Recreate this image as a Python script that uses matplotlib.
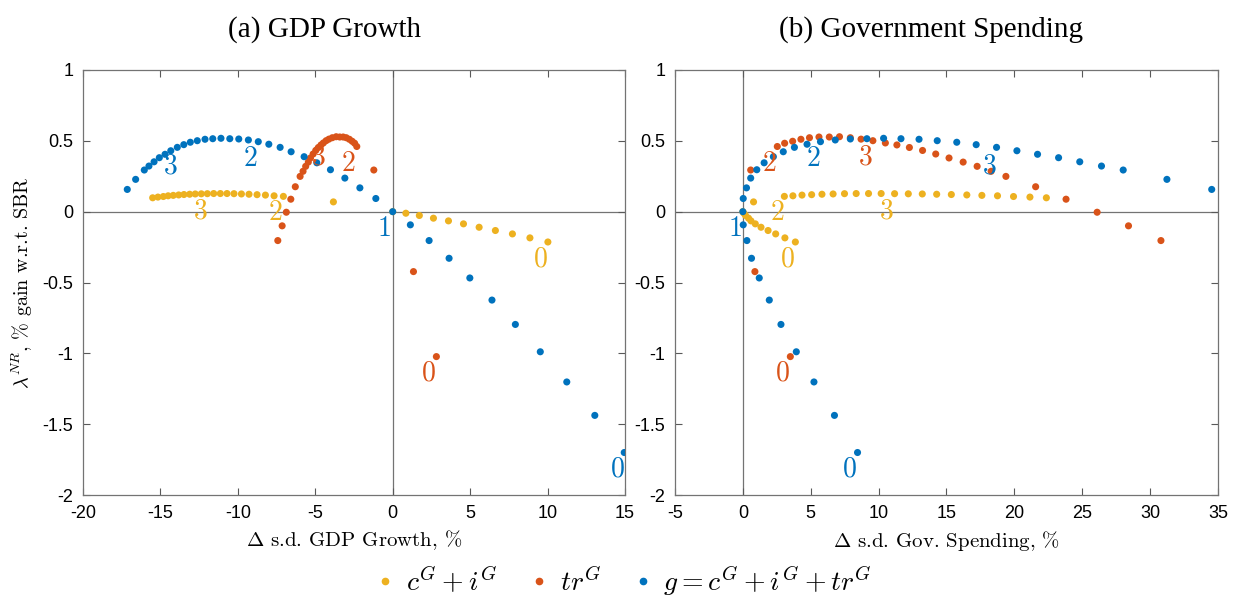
import matplotlib
matplotlib.use('Agg')
import matplotlib.pyplot as plt
from matplotlib.lines import Line2D

plt.rcParams['mathtext.fontset'] = 'cm'

# series colours (MATLAB defaults)
c_yel = '#EDB120'
c_org = '#D95319'
c_blu = '#0072BD'

# c^G + i^G
y_cig = [-0.214, -0.185, -0.157, -0.133, -0.110, -0.086, -0.065, -0.046, -0.027, -0.011, 0.0, 0.069,
         0.108, 0.112, 0.117, 0.120, 0.123, 0.125, 0.127, 0.128, 0.128, 0.128, 0.127,
         0.126, 0.125, 0.123, 0.121, 0.118, 0.115, 0.112, 0.107, 0.103, 0.098]
x_cig_gdp = [10.02, 8.86, 7.73, 6.63, 5.58, 4.57, 3.60, 2.63, 1.72, 0.85, 0.0, -3.83,
             -7.06, -7.66, -8.22, -8.76, -9.28, -9.77, -10.25, -10.70, -11.13, -11.56, -11.97,
             -12.36, -12.75, -13.11, -13.48, -13.82, -14.17, -14.50, -14.81, -15.16, -15.50]
x_cig_gov = [3.87, 3.10, 2.42, 1.86, 1.34, 0.92, 0.60, 0.42, 0.20, 0.08, 0.0, 0.79,
             3.06, 3.69, 4.36, 5.07, 5.83, 6.65, 7.49, 8.35, 9.26, 10.19, 11.18,
             12.19, 13.22, 14.28, 15.36, 16.50, 17.61, 18.76, 19.94, 21.15, 22.36]

# tr^G
y_tr = [-1.023, -0.423, 0.294, 0.460, 0.483, 0.497, 0.511, 0.522, 0.527, 0.527, 0.529, 0.522,
        0.512, 0.501, 0.485, 0.471, 0.453, 0.432, 0.407, 0.379, 0.350, 0.320, 0.285, 0.249,
        0.176, 0.088, -0.004, -0.100, -0.204]
x_tr_gdp = [2.82, 1.34, -1.22, -2.32, -2.46, -2.62, -2.80, -3.00, -3.20, -3.42, -3.65, -3.90,
            -4.12, -4.30, -4.48, -4.63, -4.80, -4.97, -5.14, -5.31, -5.45, -5.62, -5.79, -5.98,
            -6.29, -6.58, -6.87, -7.14, -7.42]
x_tr_gov = [3.50, 0.89, 0.58, 2.54, 3.08, 3.67, 4.28, 4.91, 5.61, 6.37, 7.12, 7.92,
            8.71, 9.58, 10.50, 11.35, 12.27, 13.24, 14.21, 15.19, 16.23, 17.26, 18.29, 19.38,
            21.57, 23.81, 26.10, 28.41, 30.80]

# g = c^G + i^G + tr^G
y_g = [0.157, 0.228, 0.294, 0.322, 0.352, 0.381, 0.405, 0.430, 0.454, 0.473, 0.490, 0.501,
       0.511, 0.515, 0.518, 0.515, 0.513, 0.506, 0.494, 0.476, 0.454, 0.423, 0.388, 0.345,
       0.296, 0.237, 0.168, 0.093, 0.0, -0.093, -0.204, -0.329, -0.468, -0.624, -0.796,
       -0.989, -1.202, -1.438, -1.700]
x_g_gdp = [-17.14, -16.60, -16.04, -15.74, -15.41, -15.07, -14.70, -14.33, -13.91, -13.49,
           -13.07, -12.62, -12.12, -11.62, -11.09, -10.52, -9.94, -9.32, -8.68, -8.00,
           -7.27, -6.56, -5.72, -4.90, -4.02, -3.09, -2.12, -1.09, 0.0, 1.14, 2.35, 3.64,
           4.98, 6.41, 7.92, 9.53, 11.24, 13.05, 14.95]
x_g_gov = [34.54, 31.24, 28.02, 26.42, 24.82, 23.26, 21.71, 20.19, 18.69, 17.19, 15.76,
           14.32, 12.98, 11.65, 10.37, 9.14, 7.92, 6.81, 5.72, 4.73, 3.80, 2.98, 2.25, 1.57,
           1.03, 0.58, 0.27, 0.03, 0.0, 0.03, 0.30, 0.64, 1.21, 1.95, 2.81, 3.94, 5.24,
           6.75, 8.45]

# parameter labels: (text, colour, x, y)
labels_gdp = [('0', c_blu, 14.50, -1.815), ('1', c_blu, -0.56, -0.117), ('2', c_blu, -9.21, 0.379),
              ('3', c_blu, -14.38, 0.329), ('0', c_org, 2.29, -1.136), ('2', c_org, -2.88, 0.343),
              ('3', c_org, -4.82, 0.386), ('0', c_yel, 9.53, -0.329), ('2', c_yel, -7.60, -0.004),
              ('3', c_yel, -12.44, 0.011)]
labels_gov = [('0', c_blu, 7.88, -1.815), ('1', c_blu, -0.61, -0.117), ('2', c_blu, 5.22, 0.379),
              ('3', c_blu, 18.15, 0.329), ('0', c_org, 2.93, -1.136), ('2', c_org, 1.97, 0.343),
              ('3', c_org, 8.99, 0.386), ('0', c_yel, 3.30, -0.329), ('2', c_yel, 2.56, -0.004),
              ('3', c_yel, 10.54, 0.011)]

fig = plt.figure(figsize=(12.33, 6.05), dpi=100)
ax1 = fig.add_axes([0.0673, 0.1818, 0.4396, 0.7025])
ax2 = fig.add_axes([0.5474, 0.1818, 0.4404, 0.7025])

panels = [
    (ax1, x_cig_gdp, x_tr_gdp, x_g_gdp, labels_gdp, (-20, 15), range(-20, 16, 5),
     '(a) GDP Growth', 0.445, r'$\Delta$ s.d. GDP Growth, %'),
    (ax2, x_cig_gov, x_tr_gov, x_g_gov, labels_gov, (-5, 35), range(-5, 36, 5),
     '(b) Government Spending', 0.471, r'$\Delta$ s.d. Gov. Spending, %'),
]

for ax, xc, xt, xg, labs, xlim, xticks, title, tx, xlabel in panels:
    ax.axhline(0, color='0.45', lw=0.9, zorder=1)
    ax.axvline(0, color='0.45', lw=0.9, zorder=1)
    ax.scatter(xc, y_cig, s=26, color=c_yel, edgecolors='none', zorder=3)
    ax.scatter(xt, y_tr, s=26, color=c_org, edgecolors='none', zorder=3)
    ax.scatter(xg, y_g, s=26, color=c_blu, edgecolors='none', zorder=3)
    for txt, col, lx, ly in labs:
        ax.text(lx, ly, '$' + txt + '$', color=col, fontsize=20, ha='center', va='center', zorder=4)
    ax.set_xlim(*xlim)
    ax.set_ylim(-2, 1)
    ax.set_xticks(list(xticks))
    ax.set_yticks([-2, -1.5, -1, -0.5, 0, 0.5, 1])
    ax.set_yticklabels(['-2', '-1.5', '-1', '-0.5', '0', '0.5', '1'])
    ax.set_xticklabels([str(t) for t in xticks])
    ax.tick_params(direction='in', length=5, width=0.8, color='0.35', top=True, right=True,
                   labelsize=13, pad=7)
    for lab in ax.get_xticklabels() + ax.get_yticklabels():
        lab.set_fontfamily('Liberation Sans')
    for sp in ax.spines.values():
        sp.set_color('0.45')
        sp.set_linewidth(0.9)
    ax.set_title(title, fontsize=21, fontfamily='Liberation Serif', x=tx, pad=24)
    ax.set_xlabel(xlabel, fontsize=15, fontfamily='cmr10', labelpad=5)

ax1.set_ylabel(r'$\lambda^{NR}$, % gain w.r.t. SBR', fontsize=14.5, fontfamily='cmr10', labelpad=5)

handles = [Line2D([], [], ls='none', marker='o', ms=4.5, color=c) for c in (c_yel, c_org, c_blu)]
fig.legend(handles, [r'$c^G+i^G$', r'$tr^G$', r'$g=c^G+i^G+tr^G$'], loc='lower center',
           bbox_to_anchor=(0.503, -0.03), ncol=3, frameon=False, fontsize=20,
           handletextpad=0.15, columnspacing=0.9, handlelength=1.2)

fig.savefig('out.png', dpi=100)
